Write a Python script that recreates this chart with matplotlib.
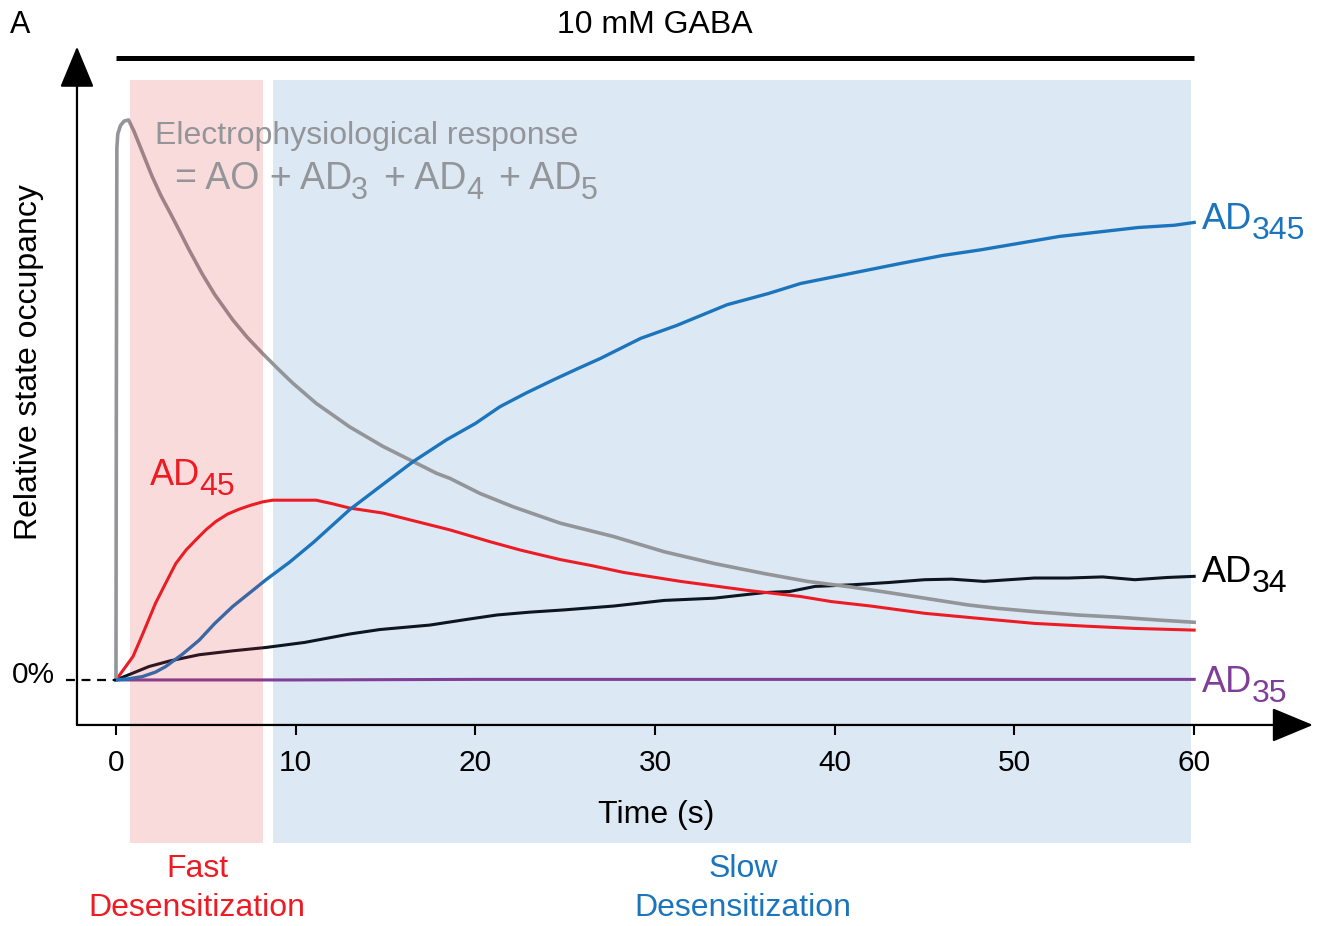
import matplotlib.pyplot as plt
import matplotlib.transforms as mtransforms

plt.rcParams['font.family'] = ['Liberation Sans', 'DejaVu Sans']


# ============================================================
# DONNÉES (occupation relative)
# ============================================================

# réponse électrophysiologique = AO + AD3 + AD4 + AD5
t_resp = [0, 0.02, 0.05, 0.1, 0.25, 0.45, 0.7, 1.0, 1.5, 2.0, 2.5, 3.0, 3.5,
          4.07, 4.8, 5.5, 6.5, 7.3, 8.16, 9.0, 9.84, 11.14, 13.0, 14.86,
          16.54, 17.84, 18.58, 20.26, 22.12, 24.72, 27.7, 30.5, 33.28,
          36.07, 38.48, 40.9, 43.0, 45.0, 47.4, 49.0, 51.1, 53.5, 55.8,
          58.0, 60.0]
resp = [0, 0.50, 0.95, 0.975, 0.99, 0.998, 1.0, 0.98, 0.94, 0.90, 0.865,
        0.835, 0.804, 0.768, 0.725, 0.688, 0.643, 0.612, 0.583, 0.556,
        0.530, 0.494, 0.452, 0.417, 0.390, 0.369, 0.360, 0.333, 0.309,
        0.280, 0.256, 0.229, 0.208, 0.190, 0.176, 0.166, 0.156, 0.146,
        0.134, 0.128, 0.122, 0.116, 0.112, 0.107, 0.103]

t_ad45 = [0, 0.5, 0.95, 1.5, 2.2, 2.8, 3.33, 3.9, 4.44, 5.0, 5.56, 6.2,
          6.86, 7.5, 8.16, 8.72, 10.0, 11.14, 12.0, 13.0, 14.86, 16.72,
          18.58, 20.8, 22.5, 24.72, 26.5, 28.25, 31.42, 35.14, 38.1, 39.8,
          42.0, 45.0, 48.0, 51.1, 54.0, 56.7, 60.0]
ad45 = [0, 0.022, 0.042, 0.083, 0.137, 0.175, 0.208, 0.232, 0.250, 0.268,
        0.283, 0.296, 0.305, 0.312, 0.318, 0.321, 0.321, 0.321, 0.315,
        0.307, 0.298, 0.283, 0.268, 0.247, 0.232, 0.215, 0.204, 0.192,
        0.176, 0.160, 0.149, 0.140, 0.132, 0.119, 0.110, 0.101, 0.096,
        0.092, 0.089]

t_ad34 = [0, 1.0, 1.84, 3.0, 4.63, 6.5, 8.35, 10.5, 13.0, 14.68, 17.47,
          19.5, 21.2, 23.0, 24.9, 27.7, 30.5, 33.28, 36.07, 37.5, 38.9,
          41.0, 43.0, 45.0, 46.5, 48.3, 51.1, 53.0, 54.9, 56.7, 58.5, 60.0]
ad34 = [0, 0.013, 0.024, 0.034, 0.045, 0.052, 0.058, 0.067, 0.082, 0.090,
        0.098, 0.108, 0.116, 0.121, 0.125, 0.132, 0.142, 0.146, 0.156,
        0.158, 0.167, 0.170, 0.174, 0.179, 0.180, 0.176, 0.182, 0.182,
        0.184, 0.179, 0.183, 0.185]

t_ad345 = [0, 0.7, 1.47, 2.2, 2.77, 3.7, 4.63, 5.5, 6.49, 7.42, 8.35, 9.65,
           11.0, 13.0, 14.68, 16.54, 18.4, 20.0, 21.37, 22.8, 24.35, 25.7,
           26.95, 29.2, 31.2, 34.0, 36.3, 38.1, 40.9, 43.7, 46.0, 48.1,
           50.3, 52.5, 54.7, 56.9, 58.9, 60.0]
ad345 = [0, 0.002, 0.006, 0.014, 0.024, 0.046, 0.071, 0.101, 0.131, 0.155,
         0.179, 0.210, 0.246, 0.304, 0.345, 0.390, 0.429, 0.458, 0.488,
         0.512, 0.536, 0.556, 0.574, 0.610, 0.633, 0.670, 0.690, 0.708,
         0.726, 0.744, 0.758, 0.768, 0.780, 0.792, 0.800, 0.808, 0.812,
         0.817]

t_ad35 = [0, 10, 20, 30, 40, 50, 60]
ad35 = [0, 0, 0.001, 0.001, 0.001, 0.001, 0.001]

x_ticks = [0, 10, 20, 30, 40, 50, 60]
gaba_on = [0, 60]          # application de GABA (s)
fast_span = [0.78, 8.18]   # désensibilisation rapide (s)
slow_span = [8.74, 59.82]  # désensibilisation lente (s)

GREY = "#939598"
RED = "#ED1C24"
BLUE = "#1C75BC"
PURPLE = "#7F3F98"
BLACK = "#0D1520"


# ============================================================
# FIGURE
# ============================================================

fig = plt.figure(figsize=(13.25, 9.26), dpi=100)
ax = fig.add_axes([0.0581, 0.2171, 0.9328, 0.7325])
ax.set_xlim(-2.17, 66.61)
ax.set_ylim(-0.0804, 1.1309)
for s in ax.spines.values():
    s.set_visible(False)
renderer = fig.canvas.get_renderer()


def write_sub(x, y, pieces, color, size, sub_size, drop=7.2):
    """Écrit un texte avec indices (morceaux posés bout à bout)."""
    dx = 0.0
    for txt, is_sub, gap in pieces:
        dx += gap * size * fig.dpi / 72.0
        dy = -drop * fig.dpi / 72.0 if is_sub else 0.0
        tr = mtransforms.offset_copy(ax.transData, fig=fig, x=dx, y=dy,
                                     units="dots")
        t = ax.text(x, y, txt, transform=tr, color=color, va="baseline",
                    fontsize=sub_size if is_sub else size, zorder=4)
        dx += t.get_window_extent(renderer).width


# zones de désensibilisation
ax.axvspan(slow_span[0], slow_span[1], ymin=-0.174, ymax=0.951,
           color="#DCE9F5", lw=0, zorder=0, clip_on=False)
ax.axvspan(fast_span[0], fast_span[1], ymin=-0.174, ymax=0.951,
           color="#E0242B", alpha=0.16, lw=0, zorder=3, clip_on=False)

# courbes
ax.plot(t_ad35, ad35, color=PURPLE, lw=2.2, zorder=2)
ax.plot(t_ad34, ad34, color=BLACK, lw=2.2, zorder=2)
ax.plot(t_ad45, ad45, color=RED, lw=2.2, zorder=2)
ax.plot(t_resp, resp, color=GREY, lw=2.6, zorder=2)
ax.plot(t_ad345, ad345, color=BLUE, lw=2.4, zorder=2)

# barre GABA
ax.plot(gaba_on, [1.111, 1.111], color="black", lw=3.6, clip_on=False,
        solid_capstyle="butt")
ax.text(30, 1.1546, "10 mM GABA", ha="center", va="baseline", fontsize=23)

# axes fléchés
arrow = dict(arrowstyle="-|>,head_length=2.6,head_width=1.08",
             color="black", lw=1.6, shrinkA=0, shrinkB=0, mutation_scale=10)
ax.annotate("", xy=(1, 0), xytext=(0, 0), xycoords="axes fraction",
            arrowprops=arrow)
ax.annotate("", xy=(0, 1), xytext=(0, 0), xycoords="axes fraction",
            arrowprops=arrow)

ax.set_xticks(x_ticks)
ax.set_xticklabels([str(v) for v in x_ticks])
ax.tick_params(axis="x", length=7, width=1.5, direction="out",
               labelsize=21.5, pad=10)
ax.set_yticks([])

# ligne 0 %
ax.plot([-2.78, 0], [0, 0], color="black", lw=1.6, ls=(0, (4, 3)),
        clip_on=False)
ax.text(-3.39, -0.006, "0%", ha="right", va="baseline", fontsize=21.5)

ax.set_xlabel("Time (s)", fontsize=23, va="baseline")
ax.xaxis.set_label_coords(0.4684, -0.1445)
ax.set_ylabel("Relative state occupancy", fontsize=23, va="baseline",
              ha="center", rotation_mode="anchor")
ax.yaxis.set_label_coords(-0.0324, 0.535)

# étiquettes des courbes
write_sub(60.43, 0.805, [("AD", False, 0), ("345", True, -0.02)],
          BLUE, 26, 23)
write_sub(60.43, 0.1755, [("AD", False, 0), ("34", True, -0.02)],
          "black", 26, 23)
write_sub(60.43, -0.021, [("AD", False, 0), ("35", True, -0.02)],
          PURPLE, 26, 23)
write_sub(1.89, 0.348, [("AD", False, 0), ("45", True, -0.02)],
          RED, 26, 23)
ax.text(2.17, 0.9566, "Electrophysiological response", color=GREY,
        fontsize=23, va="baseline", zorder=4)
write_sub(3.28, 0.877, [("= AO + AD", False, 0), ("3", True, -0.02),
                        ("+ AD", False, 0.43), ("4", True, -0.02),
                        ("+ AD", False, 0.43), ("5", True, -0.02)],
          GREY, 27, 22)

# légendes des phases
ax.text(4.51, -0.352, "Fast", color=RED, fontsize=23, ha="center",
        va="baseline", clip_on=False)
ax.text(4.51, -0.421, "Desensitization", color=RED, fontsize=23,
        ha="center", va="baseline", clip_on=False)
ax.text(34.9, -0.352, "Slow", color=BLUE, fontsize=23, ha="center",
        va="baseline", clip_on=False)
ax.text(34.9, -0.421, "Desensitization", color=BLUE, fontsize=23,
        ha="center", va="baseline", clip_on=False)

fig.text(10 / 1325, 1 - 33 / 926, "A", fontsize=22, va="baseline")

fig.savefig("out.png", dpi=100)
